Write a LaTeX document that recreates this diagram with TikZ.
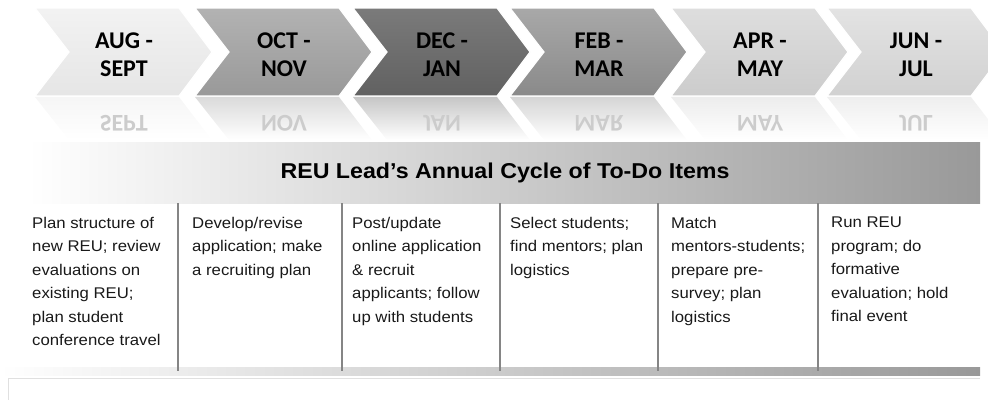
\documentclass[tikz,border=0pt]{standalone}
\usepackage{fontspec}
\usepackage{tikz}
\newfontfamily\chevfont{Carlito}
\newfontfamily\cellfont[FakeStretch=1.08]{Liberation Sans}
\tikzset{chevlabel/.style={anchor=north, inner sep=0, align=center,
  font=\chevfont\bfseries\fontsize{24}{27.5}\selectfont}}
\tikzset{chevron/.style={draw=white, line width=1.2pt}}
\tikzset{cell/.style={anchor=north west, inner sep=0, align=left, text=black!90,
  execute at begin node={\vphantom{lP}}, font=\cellfont\fontsize{15.5}{23.5}\selectfont}}
\tikzset{divider/.style={draw=black!48, line width=2.4pt}}

\begin{document}
\begin{tikzpicture}[x=1pt, y=-1pt]
    \useasboundingbox (0,0) rectangle (988,400);
    \foreach \x/\ct/\cb/\la/\lb [count=\i] in {35/5/10/AUG -/SEPT, 195/30/40/OCT -/NOV,
      353/52/62/DEC -/JAN, 510/34/46/FEB -/MAR, 671/13/20/APR -/MAY, 827/11/18/JUN -/JUL}{
        \pgfmathsetmacro\rc{0.36*\cb}
        \shade[top color=black!\rc, bottom color=white](\x, 97)--(\x+144, 97)--(\x+177, 140)--(\x+34, 140)--cycle;
        \begin{scope}
            \clip(\x, 97)rectangle(\x+177, 130);
            \begin{scope}[shift={(\x+89, 115)}, yscale=-1]
                \node[chevlabel, anchor=base, transform shape, text=black!20](r\i)at(0, 0){\lb};
            \end{scope}
        \end{scope}
        \shade[chevron, top color=black!\ct, bottom color=black!\cb](\x, 8)--(\x+144, 8)--(\x+177, 52)
            --(\x+144, 96)--(\x, 96)--(\x+34, 52)--cycle;
        \node[chevlabel](m\i)at(\x+89, 33){\la\\\lb};
    }
    \shade[left color=white, right color=black!40](28, 142)rectangle(980, 203);
    \node[font=\cellfont\bfseries\fontsize{21.5}{26}\selectfont](head)at(505, 173){REU Lead’s Annual Cycle of To-Do Items};
    \shade[left color=white, right color=black!40](0, 367)rectangle(980, 375);
    \foreach \d in {178, 342, 500, 658, 818}
        \draw[divider](\d, 203)--(\d, 371);
    \draw[black!12](8, 400)--(8, 378)--(980, 378);
    \node[cell](c1)at(32, 217){Plan structure of\\new REU; review\\evaluations on\\existing REU;\\plan student\\conference travel};
    \node[cell](c2)at(192, 217){Develop/revise\\application; make\\a recruiting plan};
    \node[cell](c3)at(352, 217){Post/update\\online application\\\& recruit\\applicants; follow\\up with students};
    \node[cell](c4)at(510, 217){Select students;\\find mentors; plan\\logistics};
    \node[cell](c5)at(671, 217){Match\\mentors-students;\\prepare pre-\\survey; plan\\logistics};
    \node[cell](c6)at(831, 217){Run REU\\program; do\\formative\\evaluation; hold\\final event};
\end{tikzpicture}
\end{document}
